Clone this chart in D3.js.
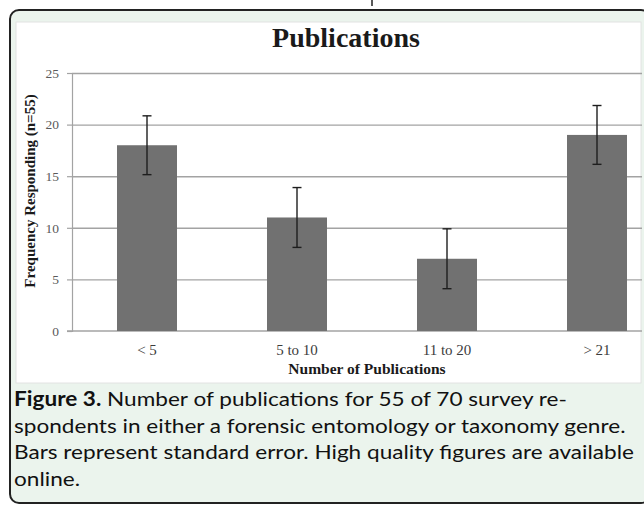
<!DOCTYPE html>
<html>
<head>
<meta charset="utf-8">
<script src="https://cdn.jsdelivr.net/npm/d3@7"></script>
<style>
  body { margin: 0; background: #fff; }
  svg { display: block; }
</style>
</head>
<body>
<svg id="chart" width="644" height="506"></svg>
<script>
// chart values
const categories = ["< 5", "5 to 10", "11 to 20", "> 21"];
const counts = [18, 11, 7, 19];
const stdErrors = [2.85, 2.9, 2.9, 2.85];
const yTicks = [0, 5, 10, 15, 20, 25];

const chartTitle = "Publications";
const xTitle = "Number of Publications";
const yTitle = "Frequency Responding (n=55)";
const captionLines = [
    ["Figure 3.", " Number of publications for 55 of 70 survey re-"],
    ["", "spondents in either a forensic entomology or taxonomy genre."],
    ["", "Bars represent standard error. High quality figures are available"],
    ["", "online."]
];

const serif = "'Times New Roman', 'Liberation Serif', serif";
const sans = "Lato, 'Open Sans', sans-serif";

const svg = d3.select('#chart');

// little stray mark above the frame (part of the cropped page)
svg.append('line')
    .attr('x1', 372).attr('x2', 372)
    .attr('y1', 0).attr('y2', 6)
    .attr('stroke', '#222').attr('stroke-width', 1.5);

// rounded green frame, its right side runs off the picture
svg.append('rect')
    .attr('x', 10).attr('y', 10)
    .attr('width', 640).attr('height', 493)
    .attr('rx', 9)
    .attr('fill', '#ebf4ed')
    .attr('stroke', '#222')
    .attr('stroke-width', 2);

// white chart area
svg.append('rect')
    .attr('x', 16).attr('y', 22)
    .attr('width', 625).attr('height', 361)
    .attr('fill', '#fff')
    .attr('stroke', '#e2e2e2')
    .attr('stroke-width', 1);

svg.append('clipPath').attr('id', 'plotClip')
    .append('rect')
    .attr('x', 16).attr('y', 22)
    .attr('width', 626).attr('height', 361);

// scales - the original plot area is wider than the crop
const x = d3.scaleBand()
    .domain(categories)
    .range([72, 672]);

const y = d3.scaleLinear()
    .domain([0, 25])
    .range([331, 73]);

const barWidth = x.bandwidth() * 0.4;

const plot = svg.append('g').attr('clip-path', 'url(#plotClip)');

// gridlines
plot.append('g')
    .attr('transform', 'translate(72,0)')
    .call(d3.axisLeft(y).tickValues(yTicks.slice(1)).tickSize(-600).tickFormat(''))
    .call(g => g.select('.domain').remove())
    .call(g => g.selectAll('line').attr('stroke', '#a3a3a3').attr('stroke-width', 1.4));

// y axis with ticks and labels
svg.append('g')
    .attr('transform', 'translate(72,0)')
    .call(d3.axisLeft(y).tickValues(yTicks).tickSize(5).tickPadding(8))
    .call(g => g.select('.domain').attr('stroke', '#a3a3a3').attr('stroke-width', 1.2))
    .call(g => g.selectAll('line').attr('stroke', '#a3a3a3').attr('stroke-width', 1.2))
    .call(g => g.selectAll('text')
        .attr('fill', '#5a5a5a')
        .style('font-family', serif)
        .style('font-size', '13.5px'));

// x axis line
plot.append('line')
    .attr('x1', 67).attr('x2', 672)
    .attr('y1', y(0)).attr('y2', y(0))
    .attr('stroke', '#a3a3a3').attr('stroke-width', 1.4);

// bars
const data = categories.map((c, i) => ({ label: c, value: counts[i], se: stdErrors[i] }));

plot.append('g')
    .selectAll('rect')
    .data(data)
    .join('rect')
    .attr('x', d => x(d.label) + (x.bandwidth() - barWidth) / 2)
    .attr('y', d => y(d.value))
    .attr('width', barWidth)
    .attr('height', d => y(0) - y(d.value))
    .attr('fill', '#717171');

// error bars
const err = plot.append('g')
    .attr('stroke', '#1e1e1e')
    .attr('stroke-width', 1.4)
    .selectAll('g')
    .data(data)
    .join('g')
    .attr('transform', d => `translate(${x(d.label) + x.bandwidth() / 2},0)`);

err.append('line')
    .attr('y1', d => y(d.value + d.se))
    .attr('y2', d => y(d.value - d.se));
err.append('line')
    .attr('x1', -4.5).attr('x2', 4.5)
    .attr('y1', d => y(d.value + d.se))
    .attr('y2', d => y(d.value + d.se));
err.append('line')
    .attr('x1', -4.5).attr('x2', 4.5)
    .attr('y1', d => y(d.value - d.se))
    .attr('y2', d => y(d.value - d.se));

// category labels
svg.append('g')
    .selectAll('text')
    .data(categories)
    .join('text')
    .attr('x', d => x(d) + x.bandwidth() / 2)
    .attr('y', 355)
    .attr('text-anchor', 'middle')
    .attr('fill', '#3c3c3c')
    .style('font-family', serif)
    .style('font-size', '15px')
    .text(d => d);

// titles
svg.append('text')
    .attr('x', 346).attr('y', 47)
    .attr('text-anchor', 'middle')
    .attr('fill', '#1a1a1a')
    .style('font-family', serif)
    .style('font-size', '28px')
    .style('font-weight', 'bold')
    .text(chartTitle);

svg.append('text')
    .attr('x', 367).attr('y', 374)
    .attr('text-anchor', 'middle')
    .attr('fill', '#1a1a1a')
    .style('font-family', serif)
    .style('font-size', '15.5px')
    .style('font-weight', 'bold')
    .text(xTitle);

svg.append('text')
    .attr('transform', 'translate(35,191) rotate(-90)')
    .attr('text-anchor', 'middle')
    .attr('fill', '#1a1a1a')
    .style('font-family', serif)
    .style('font-size', '15px')
    .style('font-weight', 'bold')
    .text(yTitle);

// figure caption (the source type is wider than Lato, so stretch it a little)
const caption = svg.append('g')
    .attr('transform', 'translate(14,0) scale(1.13,1)')
    .selectAll('text')
    .data(captionLines)
    .join('text')
    .attr('x', 0)
    .attr('y', (d, i) => 406 + i * 26.7)
    .attr('fill', '#111')
    .style('font-family', sans)
    .style('font-size', '20px');

caption.append('tspan')
    .style('font-weight', 'bold')
    .text(d => d[0]);
caption.append('tspan')
    .text(d => d[1]);
</script>
</body>
</html>
